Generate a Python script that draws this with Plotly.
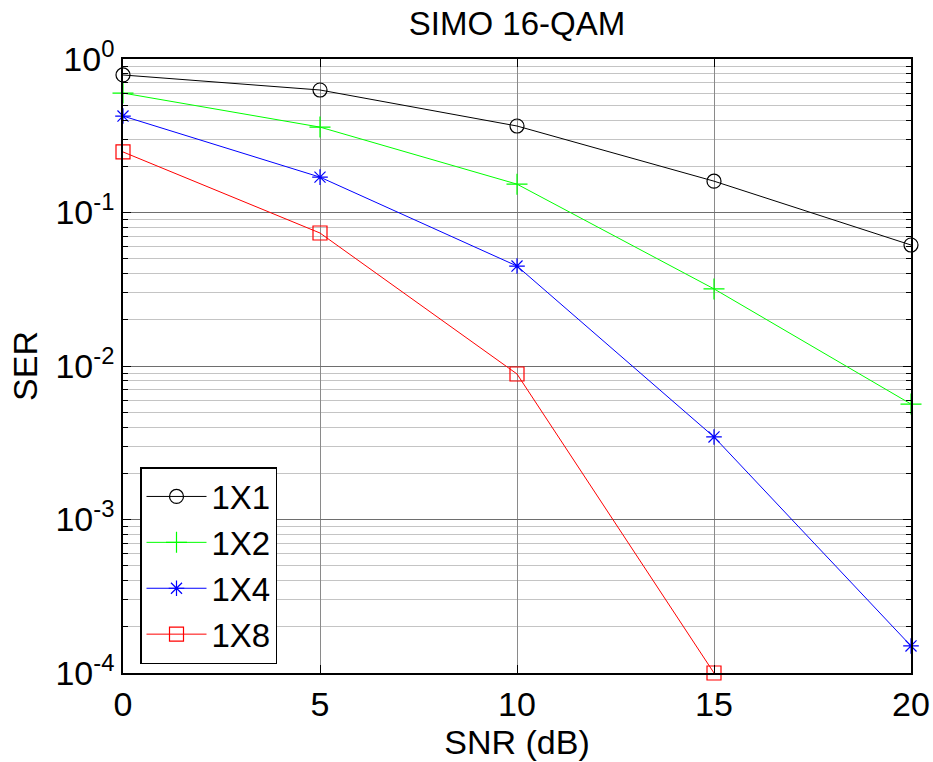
import plotly.graph_objects as go

snr = [0, 5, 10, 15, 20]
ser_1x1 = [0.787, 0.628, 0.366, 0.160, 0.0614]
ser_1x2 = [0.60, 0.36, 0.153, 0.0318, 0.00565]
ser_1x4 = [0.425, 0.170, 0.0448, 0.00345, 0.00015]
snr_1x8 = [0, 5, 10, 15]
ser_1x8 = [0.248, 0.0735, 0.00887, 0.0001]

x_ticks = [0, 5, 10, 15, 20]
y_tickvals = [1e-4, 1e-3, 1e-2, 1e-1, 1]
y_ticktext = ["10<sup>-4</sup>", "10<sup>-3</sup>", "10<sup>-2</sup>", "10<sup>-1</sup>", "10<sup>0</sup>"]
y_minor = [m * 10 ** e for e in range(-4, 0) for m in range(2, 10)]

FONT = "Liberation Sans, Arial, sans-serif"

fig = go.Figure()
series = [
    ("1X1", snr, ser_1x1, "#000000", "circle-open", 14),
    ("1X2", snr, ser_1x2, "#00ff00", "cross-thin-open", 15),
    ("1X4", snr, ser_1x4, "#0000ff", "asterisk-open", 13),
    ("1X8", snr_1x8, ser_1x8, "#ff0000", "square-open", 14),
]
for name, xs, ys, color, sym, size in series:
    fig.add_trace(go.Scatter(
        x=xs, y=ys, name=name, mode="lines+markers",
        line=dict(color=color, width=1),
        marker=dict(symbol=sym, size=size, color=color, line=dict(color=color, width=1.2)),
        cliponaxis=False,
    ))

fig.update_layout(
    width=933, height=762,
    margin=dict(l=123, r=22, t=59, b=89, autoexpand=False),
    paper_bgcolor="white", plot_bgcolor="white",
    font=dict(family=FONT, size=34, color="black"),
    title=dict(text="SIMO 16-QAM", x=0.5, xref="paper", xanchor="center",
               y=1 - 23 / 762, yanchor="middle", font=dict(size=33)),
    legend=dict(x=17 / 788, y=9 / 614, xanchor="left", yanchor="bottom",
                bordercolor="black", borderwidth=1.5, bgcolor="white",
                font=dict(size=33), itemwidth=60, tracegroupgap=0),
    showlegend=True,
)
fig.update_xaxes(
    range=[0, 20], tickvals=x_ticks, ticks="inside", ticklen=8, tickcolor="black",
    showline=True, linecolor="black", linewidth=1.5, mirror="allticks",
    showgrid=True, gridcolor="#8a8a8a", gridwidth=1, zeroline=False,
    automargin=False,
    title=dict(text="SNR (dB)", standoff=2, font=dict(size=34)),
    tickfont=dict(size=34),
)
fig.update_yaxes(
    type="log", range=[-4, 0], tickvals=y_tickvals, ticktext=y_ticktext,
    ticks="inside", ticklen=8, tickcolor="black",
    showline=True, linecolor="black", linewidth=1.5, mirror="allticks",
    showgrid=True, gridcolor="#6e6e6e", gridwidth=1, zeroline=False,
    automargin=False,
    minor=dict(tickvals=y_minor, ticks="inside", ticklen=5, tickcolor="black",
               showgrid=True, gridcolor="#c4c4c4", gridwidth=1),
    title=dict(text="SER", standoff=8, font=dict(size=34)),
    tickfont=dict(size=34),
)

fig.write_html("out.html")
